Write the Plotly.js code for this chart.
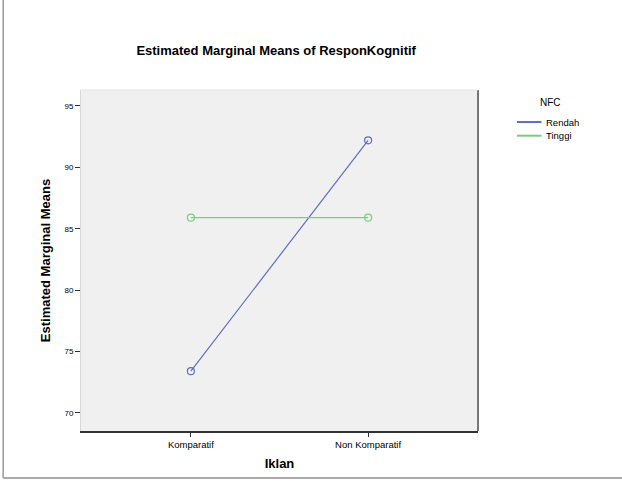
<!DOCTYPE html>
<html>
<head>
<meta charset="utf-8">
<script src="https://cdn.plot.ly/plotly-3.0.1.min.js"></script>
<style>
html,body{margin:0;padding:0;background:#fff;}
#chart{width:622px;height:488px;}
</style>
</head>
<body>
<div id="chart"></div>
<script>
const categories = ["Komparatif", "Non Komparatif"];
const seriesNames = ["Rendah", "Tinggi"];
const legendTitle = "NFC";
const rendahValues = [73.4, 92.2];
const tinggiValues = [85.9, 85.9];
const yTickValues = [70, 75, 80, 85, 90, 95];
const yTickLabels = ["70", "75", "80", "85", "90", "95"];

const colors = ["#5b6ec0", "#79cf79"];
const font = "Liberation Sans, Arial, sans-serif";

const traces = [rendahValues, tinggiValues].map((vals, i) => ({
  type: "scatter",
  mode: "lines+markers",
  name: seriesNames[i],
  showlegend: false,
  x: categories,
  y: vals,
  line: {color: colors[i], width: 1.2},
  marker: {symbol: "circle-open", size: 7, color: colors[i], line: {width: 1.2}}
}));

// manual legend (lines only, compact spacing)
const legX0 = 1.098, legX1 = 1.16, legTextX = 1.165;
const legY = [0.906, 0.866];
const shapes = [
  {type: "line", xref: "paper", yref: "paper", x0: 1, x1: 1, y0: 0, y1: 1, line: {color: "#777", width: 2}},
  {type: "line", xref: "paper", yref: "paper", x0: 0, x1: 1, y0: 1, y1: 1, line: {color: "#e4e4e4", width: 1}},
  {type: "line", xref: "paper", yref: "paper", x0: -0.196, x1: -0.196, y0: -0.138, y1: 1.264, line: {color: "#999", width: 1.5}},
  {type: "line", xref: "paper", yref: "paper", x0: -0.196, x1: 1.363, y0: -0.138, y1: -0.138, line: {color: "#aaa", width: 2}}
];
const annotations = [
  {xref: "paper", yref: "paper", x: 1.182, y: 0.962, text: legendTitle, showarrow: false,
   xanchor: "center", yanchor: "middle", font: {family: font, size: 10, color: "#000"}}
];
seriesNames.forEach((n, i) => {
  shapes.push({type: "line", xref: "paper", yref: "paper", x0: legX0, x1: legX1, y0: legY[i], y1: legY[i],
               line: {color: colors[i], width: 2}});
  annotations.push({xref: "paper", yref: "paper", x: legTextX, y: legY[i], text: n, showarrow: false,
                    xanchor: "left", yanchor: "middle", font: {family: font, size: 9.5, color: "#000"}});
});

const layout = {
  width: 622, height: 488,
  margin: {l: 81, r: 144, t: 90, b: 57},
  paper_bgcolor: "#ffffff",
  plot_bgcolor: "#f0f0f0",
  showlegend: false,
  title: {text: "<b>Estimated Marginal Means of ResponKognitif</b>", x: 0.444, xanchor: "center", y: 0.897, yanchor: "middle",
          font: {family: font, size: 13, color: "#000"}},
  xaxis: {
    type: "category", range: [-0.62, 1.62],
    showgrid: false, zeroline: false,
    showline: true, linecolor: "#333", linewidth: 2,
    ticks: "outside", ticklen: 4, tickcolor: "#333",
    tickfont: {family: font, size: 9.5, color: "#000"},
    title: {text: "<b>Iklan</b>", font: {family: font, size: 13, color: "#000"}, standoff: 9}
  },
  yaxis: {
    range: [68.53, 96.3],
    tickvals: yTickValues, ticktext: yTickLabels,
    showgrid: false, zeroline: false,
    showline: true, linecolor: "#d8d8d8", linewidth: 1,
    ticks: "outside", ticklen: 5, tickcolor: "#333",
    tickfont: {family: font, size: 8, color: "#000"},
    title: {text: "<b>Estimated Marginal Means</b>", font: {family: font, size: 13, color: "#000"}, standoff: 10}
  },
  shapes: shapes,
  annotations: annotations
};

Plotly.newPlot("chart", traces, layout, {displayModeBar: false, staticPlot: true});
</script>
</body>
</html>
